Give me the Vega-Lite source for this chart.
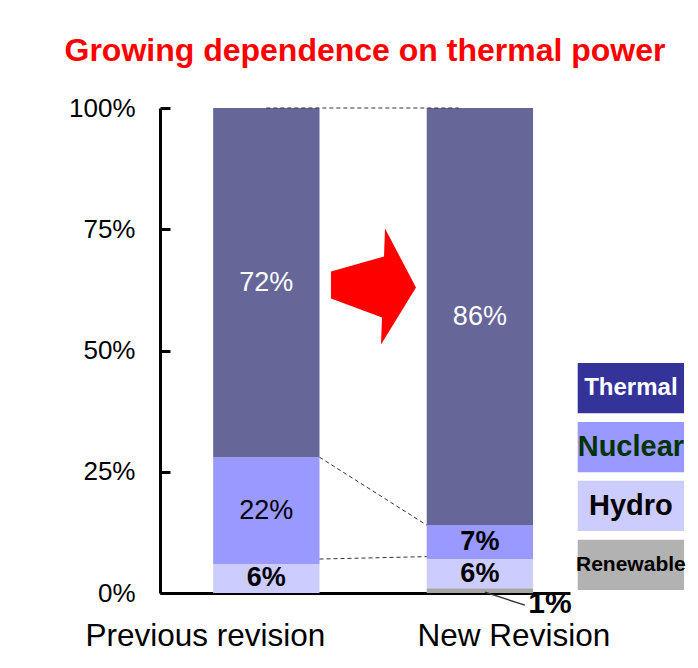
{
  "$schema": "https://vega.github.io/schema/vega-lite/v6.json",
  "autosize": {"type": "none"},
  "padding": {"left": 160, "top": 108, "right": 128, "bottom": 75},
  "width": 410,
  "height": 485,
  "background": "white",
  "config": {"view": {"stroke": null}, "font": "Liberation Sans"},
  "title": {"text": "Growing dependence on thermal power", "fontSize": 32, "fontWeight": "bold", "color": "#FF0000", "font": "Liberation Sans", "anchor": "middle", "frame": "group", "offset": 27},
  "data": {"values": [
    {"rev": "Previous revision", "source": "Renewable", "value": 0.0},
    {"rev": "Previous revision", "source": "Hydro", "value": 0.06},
    {"rev": "Previous revision", "source": "Nuclear", "value": 0.22},
    {"rev": "Previous revision", "source": "Thermal", "value": 0.72},
    {"rev": "New Revision", "source": "Renewable", "value": 0.01},
    {"rev": "New Revision", "source": "Hydro", "value": 0.06},
    {"rev": "New Revision", "source": "Nuclear", "value": 0.07},
    {"rev": "New Revision", "source": "Thermal", "value": 0.86}
  ]},
  "transform": [
    {"stack": "value", "groupby": ["rev"], "as": ["v0", "v1"]},
    {"calculate": "(datum.v0 + datum.v1) / 2", "as": "mid"}
  ],
  "layer": [
    {
      "layer": [
        {
          "mark": {"type": "bar"},
          "encoding": {
            "x": {"field": "rev", "type": "nominal",
              "scale": {"domain": ["Previous revision", "New Revision"], "paddingInner": 0.502, "paddingOuter": 0.211, "align": 0.59},
              "axis": {"title": null, "ticks": false, "labelAngle": 0, "domainColor": "black", "domainWidth": 3, "labelFont": "Liberation Sans", "labelFontSize": 31.5, "labelColor": "black", "labelPadding": 27, "labelLimit": 0,
                "labelOffset": {"condition": {"test": "datum.value === 'Previous revision'", "value": -61}, "value": 34}}},
            "y": {"field": "v0", "type": "quantitative", "scale": {"domain": [0, 1]},
              "axis": {"title": null, "values": [0, 0.25, 0.5, 0.75, 1], "format": ".0%", "grid": false, "domainColor": "black", "domainWidth": 3, "tickColor": "black", "tickWidth": 3, "tickSize": -10, "labelPadding": 35, "labelFont": "Liberation Sans", "labelFontSize": 26, "labelColor": "black"}},
            "y2": {"field": "v1"},
            "color": {"field": "source", "type": "nominal",
              "scale": {"domain": ["Thermal", "Nuclear", "Hydro", "Renewable"], "range": ["#666699", "#9999FF", "#CCCCFF", "#A6A6A6"]},
              "legend": null}
          }
        },
        {
          "transform": [{"filter": "datum.source !== 'Renewable'"}],
          "mark": {"type": "text", "font": "Liberation Sans", "fontSize": 27, "fontWeight": {"expr": "datum.value < 0.1 ? 'bold' : 'normal'"}},
          "encoding": {
            "x": {"field": "rev", "type": "nominal"},
            "y": {"field": "mid", "type": "quantitative"},
            "text": {"field": "value", "type": "quantitative", "format": ".0%"},
            "color": {"condition": {"test": "datum.source === 'Thermal'", "value": "white"}, "value": "black"}
          }
        },
        {
          "transform": [{"filter": "datum.source === 'Renewable' && datum.value > 0"}],
          "mark": {"type": "rule", "color": "#333333", "strokeWidth": 1.5, "xOffset": 5, "x2Offset": 45, "yOffset": 4, "y2Offset": 17},
          "encoding": {
            "x": {"field": "rev", "type": "nominal"},
            "x2": {"field": "rev"},
            "y": {"field": "v1", "type": "quantitative"},
            "y2": {"field": "v1"}
          }
        },
        {
          "transform": [{"filter": "datum.source === 'Renewable' && datum.value > 0"}],
          "mark": {"type": "text", "font": "Liberation Sans", "fontSize": 30, "fontWeight": "bold", "dx": 70, "dy": 16, "color": "black"},
          "encoding": {
            "x": {"field": "rev", "type": "nominal"},
            "y": {"field": "v1", "type": "quantitative"},
            "text": {"field": "value", "type": "quantitative", "format": ".0%"}
          }
        },
        {
          "data": {"values": [
            {"from": "Previous revision", "to": "New Revision", "y_from": 0.28, "y_to": 0.14},
            {"from": "Previous revision", "to": "New Revision", "y_from": 0.07, "y_to": 0.075}
          ]},
          "mark": {"type": "rule", "strokeDash": [4, 3], "color": "#333333", "strokeWidth": 1},
          "encoding": {
            "x": {"field": "from", "type": "nominal", "bandPosition": 1},
            "x2": {"field": "to", "bandPosition": 0},
            "y": {"field": "y_from", "type": "quantitative"},
            "y2": {"field": "y_to"}
          }
        },
        {
          "data": {"values": [{"level": 1}]},
          "mark": {"type": "rule", "strokeDash": [4, 3], "color": "#333333", "strokeWidth": 1},
          "encoding": {
            "x": {"datum": "Previous revision", "bandPosition": 0.5},
            "x2": {"datum": "New Revision", "bandPosition": 0.3},
            "y": {"field": "level", "type": "quantitative"}
          }
        },
        {
          "data": {"values": [{"level": 0.632}]},
          "mark": {"type": "point", "shape": "M-42,-15L11,-30L12,-58L43,1L8,58L9,31L-42,12Z", "size": 4, "filled": true, "color": "#FF0000", "opacity": 1, "strokeWidth": 0, "xOffset": 53.5},
          "encoding": {
            "x": {"datum": "Previous revision", "bandPosition": 1},
            "y": {"field": "level", "type": "quantitative"}
          }
        }
      ]
    },
    {
      "transform": [{"filter": "datum.rev === 'New Revision'"}],
      "layer": [
        {
          "mark": {"type": "bar", "xOffset": 151, "x2Offset": 151},
          "encoding": {
            "x": {"datum": "New Revision"},
            "y": {"field": "source", "type": "nominal", "sort": ["Thermal", "Nuclear", "Hydro", "Renewable"],
              "scale": {"range": [255, 482], "paddingInner": 0.148, "paddingOuter": 0}, "axis": null},
            "fill": {"field": "source", "type": "nominal",
              "scale": {"domain": ["Thermal", "Nuclear", "Hydro", "Renewable"], "range": ["#333399", "#9999FF", "#CCCCFF", "#B2B2B2"]},
              "legend": null}
          }
        },
        {
          "mark": {"type": "text", "xOffset": 151, "fontWeight": "bold", "font": "Liberation Sans",
            "fontSize": {"expr": "datum.source === 'Renewable' ? 21 : datum.source === 'Thermal' ? 24 : 29"}},
          "encoding": {
            "x": {"datum": "New Revision"},
            "y": {"field": "source", "type": "nominal", "sort": ["Thermal", "Nuclear", "Hydro", "Renewable"]},
            "text": {"field": "source"},
            "color": {"condition": [
              {"test": "datum.source === 'Thermal'", "value": "white"},
              {"test": "datum.source === 'Nuclear'", "value": "#003300"}
            ], "value": "black"}
          }
        }
      ]
    }
  ],
  "resolve": {"scale": {"y": "independent"}}
}
